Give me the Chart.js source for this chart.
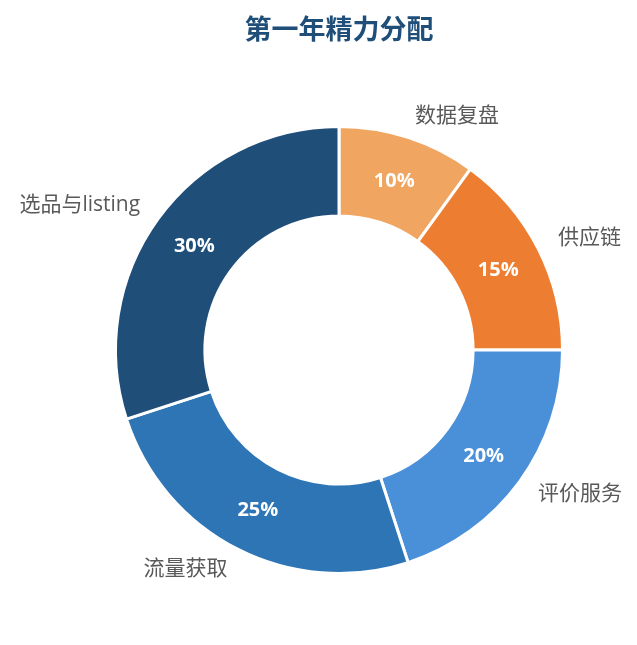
<!DOCTYPE html>
<html>
<head>
<meta charset="utf-8">
<script src="https://cdn.jsdelivr.net/npm/chart.js@4.4.0/dist/chart.umd.min.js"></script>
<style>
  html, body { margin: 0; padding: 0; background: #fff; }
  #wrap { width: 637px; height: 645px; }
</style>
</head>
<body>
<div id="wrap"><canvas id="pieChart" width="637" height="645"></canvas></div>
<script>
// --- データ ---
const categories = ['数据复盘', '供应链', '评价服务', '流量获取', '选品与listing'];
const shares = [10, 15, 20, 25, 30];
const sliceColors = ['#F0A561', '#ED7D31', '#4A90D9', '#2E75B6', '#1F4E79'];
const chartTitle = '第一年精力分配';

const FONT = '"Open Sans", "Noto Sans CJK SC", sans-serif';

// ラベル・タイトルを描くプラグイン
const labelPlugin = {
  id: 'sliceLabels',
  afterDatasetsDraw(chart) {
    const ctx = chart.ctx;
    const meta = chart.getDatasetMeta(0);
    const total = shares.reduce((a, b) => a + b, 0);

    meta.data.forEach((arc, i) => {
      const p = arc.getProps(['x', 'y', 'startAngle', 'endAngle', 'outerRadius'], true);
      const mid = (p.startAngle + p.endAngle) / 2;

      // percentage inside the ring
      const r1 = p.outerRadius * 0.8;
      ctx.save();
      ctx.fillStyle = '#ffffff';
      ctx.font = 'bold 20px ' + FONT;
      ctx.textAlign = 'center';
      ctx.textBaseline = 'middle';
      ctx.fillText(Math.round(shares[i] / total * 100) + '%', p.x + Math.cos(mid) * r1, p.y + Math.sin(mid) * r1 + 1);
      ctx.restore();

      // category name outside
      const r2 = p.outerRadius * 1.1;
      const lx = p.x + Math.cos(mid) * r2;
      const ly = p.y + Math.sin(mid) * r2;
      ctx.save();
      ctx.fillStyle = '#595959';
      ctx.font = '21px ' + FONT;
      ctx.textAlign = Math.cos(mid) >= 0 ? 'left' : 'right';
      ctx.textBaseline = 'middle';
      ctx.fillText(categories[i], lx, ly);
      ctx.restore();
    });

    // title
    const area = chart.chartArea;
    ctx.save();
    ctx.fillStyle = '#1F4E79';
    ctx.font = 'bold 27px "Noto Sans CJK SC", sans-serif';
    ctx.textAlign = 'center';
    ctx.textBaseline = 'middle';
    ctx.fillText(chartTitle, (area.left + area.right) / 2, 29);
    ctx.restore();
  }
};

new Chart(document.getElementById('pieChart'), {
  type: 'doughnut',
  data: {
    labels: categories,
    datasets: [{
      data: shares,
      backgroundColor: sliceColors,
      borderColor: '#ffffff',
      borderWidth: 3,
      hoverOffset: 0
    }]
  },
  options: {
    responsive: false,
    animation: false,
    cutout: '60%',
    layout: {
      padding: { left: 114, right: 73, top: 125, bottom: 70 }
    },
    plugins: {
      legend: { display: false },
      title: { display: false },
      tooltip: { enabled: false }
    }
  },
  plugins: [labelPlugin]
});
</script>
</body>
</html>
